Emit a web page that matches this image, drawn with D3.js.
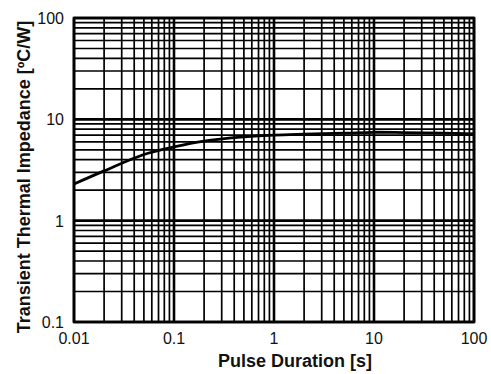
<!DOCTYPE html>
<html>
<head>
<meta charset="utf-8">
<script src="https://cdn.jsdelivr.net/npm/d3@7"></script>
<style>
  html, body { margin: 0; padding: 0; background: #fff; }
  svg { display: block; font-family: "Liberation Sans", Arial, sans-serif; }
</style>
</head>
<body>
<svg id="chart" width="491" height="374"></svg>
<script>
// transient thermal impedance curve
const pulseDuration = [0.01, 0.02, 0.05, 0.1, 0.2, 0.5, 1, 2, 5, 10, 20, 50, 100];
const impedance = [2.3, 3.1, 4.5, 5.35, 6.1, 6.7, 7.0, 7.15, 7.3, 7.45, 7.4, 7.3, 7.2];

const xTicks = [0.01, 0.1, 1, 10, 100];
const xTickLabels = ['0.01', '0.1', '1', '10', '100'];
const yTicks = [0.1, 1, 10, 100];
const yTickLabels = ['0.1', '1', '10', '100'];

(function () {
  const svg = d3.select('#chart');
  const left = 74, right = 474, top = 18, bottom = 322;

  const x = d3.scaleLog().domain([0.01, 100]).range([left, right]);
  const y = d3.scaleLog().domain([0.1, 100]).range([bottom, top]);

  // minor grid: 2..9 in every decade
  const minorX = [], minorY = [];
  for (let e = -2; e < 2; e++) {
    for (let m = 2; m <= 9; m++) minorX.push(m * Math.pow(10, e));
  }
  for (let e = -1; e < 2; e++) {
    for (let m = 2; m <= 9; m++) minorY.push(m * Math.pow(10, e));
  }

  const grid = svg.append('g').attr('stroke', '#000');

  grid.selectAll('line.mx')
    .data(minorX)
    .enter()
    .append('line')
    .attr('x1', d => x(d)).attr('x2', d => x(d))
    .attr('y1', top).attr('y2', bottom)
    .attr('stroke-width', 1.7);

  grid.selectAll('line.my')
    .data(minorY)
    .enter()
    .append('line')
    .attr('y1', d => y(d)).attr('y2', d => y(d))
    .attr('x1', left).attr('x2', right)
    .attr('stroke-width', 1.7);

  grid.selectAll('line.Mx')
    .data(xTicks)
    .enter()
    .append('line')
    .attr('x1', d => x(d)).attr('x2', d => x(d))
    .attr('y1', top).attr('y2', bottom)
    .attr('stroke-width', 2.6);

  grid.selectAll('line.My')
    .data(yTicks)
    .enter()
    .append('line')
    .attr('y1', d => y(d)).attr('y2', d => y(d))
    .attr('x1', left).attr('x2', right)
    .attr('stroke-width', 2.6);

  svg.append('rect')
    .attr('x', left).attr('y', top)
    .attr('width', right - left).attr('height', bottom - top)
    .attr('fill', 'none').attr('stroke', '#000').attr('stroke-width', 2.6);

  // curve
  const line = d3.line()
    .x((d, i) => x(pulseDuration[i]))
    .y(d => y(d))
    .curve(d3.curveCatmullRom.alpha(0.5));

  svg.append('path')
    .datum(impedance)
    .attr('fill', 'none')
    .attr('stroke', '#000')
    .attr('stroke-width', 2.8)
    .attr('d', line);

  // tick labels
  svg.append('g')
    .selectAll('text')
    .data(xTicks)
    .enter()
    .append('text')
    .attr('x', d => x(d))
    .attr('y', 344)
    .attr('text-anchor', 'middle')
    .attr('font-size', 16)
    .attr('fill', '#111')
    .text((d, i) => xTickLabels[i]);

  svg.append('g')
    .selectAll('text')
    .data(yTicks)
    .enter()
    .append('text')
    .attr('x', 64)
    .attr('y', d => y(d) + 6)
    .attr('text-anchor', 'end')
    .attr('font-size', 16)
    .attr('fill', '#111')
    .text((d, i) => yTickLabels[i]);

  // axis titles
  svg.append('text')
    .attr('x', 295)
    .attr('y', 367)
    .attr('text-anchor', 'middle')
    .attr('font-size', 18)
    .attr('font-weight', 'bold')
    .attr('fill', '#111')
    .text('Pulse Duration [s]');

  svg.append('text')
    .attr('transform', 'translate(30,177) rotate(-90)')
    .attr('text-anchor', 'middle')
    .attr('font-size', 18)
    .attr('font-weight', 'bold')
    .attr('fill', '#111')
    .text('Transient Thermal Impedance [ºC/W]');
})();
</script>
</body>
</html>
